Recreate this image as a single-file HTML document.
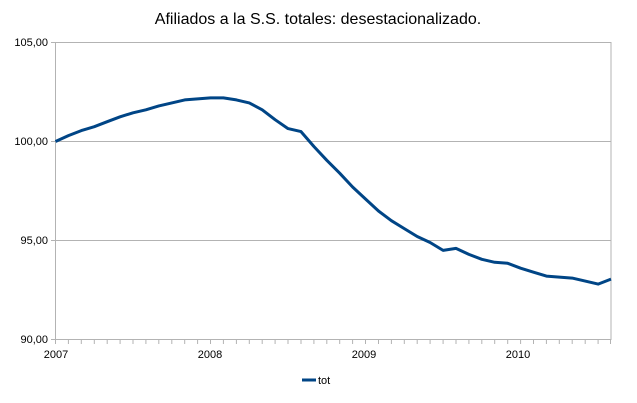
<!DOCTYPE html>
<html><head><meta charset="utf-8"><style>
html,body{margin:0;padding:0;background:#fff}
svg{display:block;font-family:"Liberation Sans",sans-serif}
</style></head><body>
<svg width="637" height="403" viewBox="0 0 637 403" xmlns="http://www.w3.org/2000/svg">
<rect width="637" height="403" fill="#fff"/>
<text x="318" y="24" font-size="16" text-anchor="middle" fill="#000">Afiliados a la S.S. totales: desestacionalizado.</text>
<g stroke="#b3b3b3" stroke-width="1">
<line x1="55.5" y1="42.5" x2="611" y2="42.5"/>
<line x1="55.5" y1="141.5" x2="611" y2="141.5"/>
<line x1="55.5" y1="240.5" x2="611" y2="240.5"/>
<line x1="55.5" y1="339.5" x2="611" y2="339.5"/>
<line x1="55.5" y1="42" x2="55.5" y2="344"/>
<line x1="611" y1="42" x2="611" y2="340"/>
<line x1="51" y1="42.5" x2="55.5" y2="42.5"/>
<line x1="51" y1="141.5" x2="55.5" y2="141.5"/>
<line x1="51" y1="240.5" x2="55.5" y2="240.5"/>
<line x1="51" y1="339.5" x2="55.5" y2="339.5"/>
</g>
<path stroke="#b3b3b3" stroke-width="1" d="M68.4 340v4M81.3 340v4M94.3 340v4M107.2 340v4M120.1 340v4M133 340v4M145.9 340v4M158.8 340v4M171.8 340v4M184.7 340v4M197.6 340v4M210.5 340v4M223.4 340v4M236.4 340v4M249.3 340v4M262.2 340v4M275.1 340v4M288 340v4M301 340v4M313.9 340v4M326.8 340v4M339.7 340v4M352.6 340v4M365.5 340v4M378.5 340v4M391.4 340v4M404.3 340v4M417.2 340v4M430.1 340v4M443.1 340v4M456 340v4M468.9 340v4M481.8 340v4M494.7 340v4M507.7 340v4M520.6 340v4M533.5 340v4M546.4 340v4M559.3 340v4M572.2 340v4M585.2 340v4M598.1 340v4M610.5 340v4"/>
<g font-size="11" fill="#000">
<text x="48" y="46" text-anchor="end">105,00</text>
<text x="48" y="145" text-anchor="end">100,00</text>
<text x="48" y="244" text-anchor="end">95,00</text>
<text x="48" y="343" text-anchor="end">90,00</text>
<text x="56" y="358" text-anchor="middle">2007</text>
<text x="210" y="358" text-anchor="middle">2008</text>
<text x="364" y="358" text-anchor="middle">2009</text>
<text x="518" y="358" text-anchor="middle">2010</text>
<text x="318" y="384">tot</text>
</g>
<line x1="302" y1="380" x2="316" y2="380" stroke="#004586" stroke-width="3"/>
<polyline fill="none" stroke="#004586" stroke-width="3" stroke-linejoin="round" points="55.5,141.5 68.4,135.6 81.3,130.6 94.3,126.7 107.2,121.7 120.1,116.8 133,112.8 145.9,109.8 158.8,105.9 171.8,102.9 184.7,99.9 197.6,98.9 210.5,97.9 223.4,97.9 236.4,99.9 249.3,102.9 262.2,109.8 275.1,119.7 288,128.6 301,131.6 313.9,146.5 326.8,160.3 339.7,173.2 352.6,187 365.5,199 378.5,211 391.4,220.7 404.3,228.6 417.2,236.5 430.1,242.5 443.1,250.4 456,248.4 468.9,254.4 481.8,259.3 494.7,262.3 507.7,263.3 520.6,268.2 533.5,272.2 546.4,276.1 559.3,277.1 572.2,278.1 585.2,281.1 598.1,284.1 611,279.1"/>
</svg>
</body></html>
